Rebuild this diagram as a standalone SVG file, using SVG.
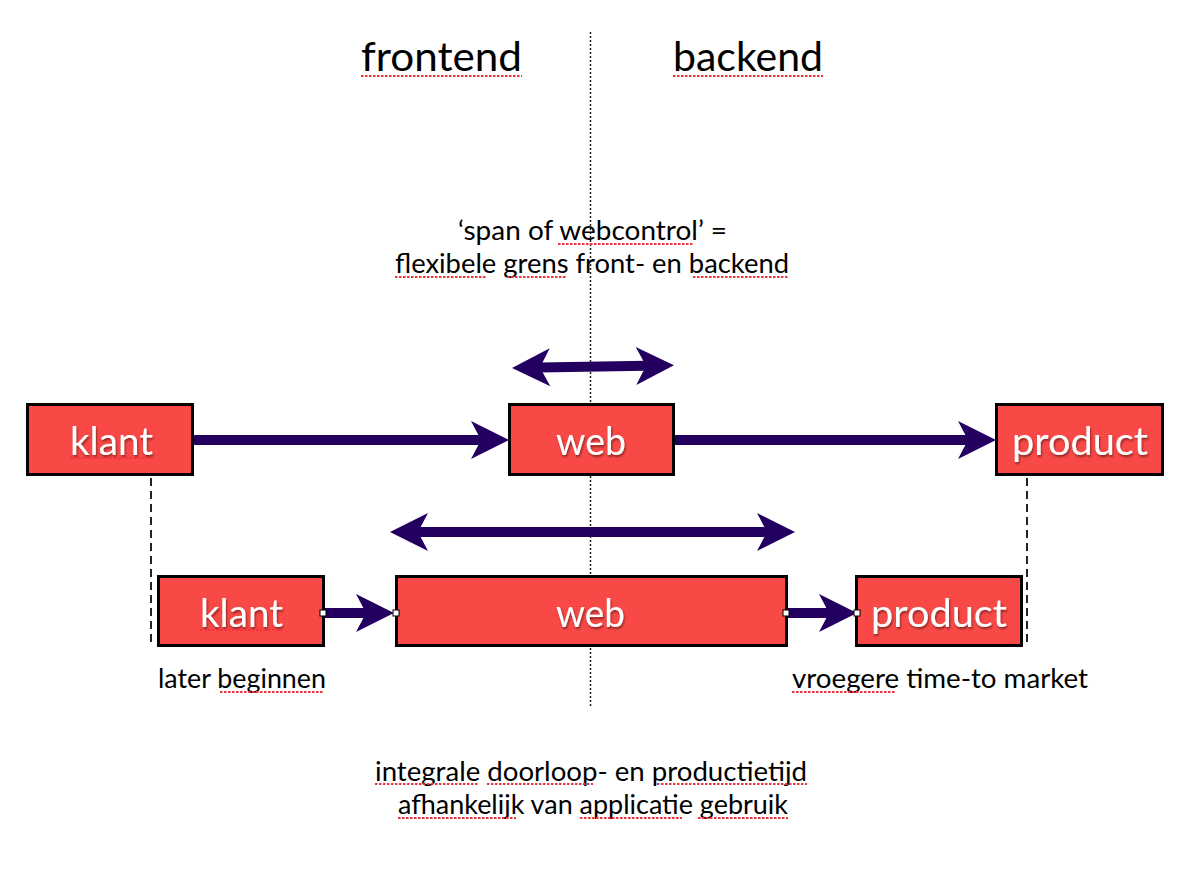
<svg xmlns="http://www.w3.org/2000/svg" width="1179" height="876" viewBox="0 0 1179 876">
<style>
.t{font-family:Lato,"Open Sans","Liberation Sans",sans-serif;fill:#000}
.bt{font-family:Lato,"Open Sans","Liberation Sans",sans-serif;fill:#fff;font-size:38px;filter:url(#sh)}
.box{fill:#F94946;stroke:#000;stroke-width:3}
.arr{stroke:#230060;stroke-width:10;fill:none}
.sp{stroke:#F2343C;stroke-width:2;stroke-dasharray:2.5 1.5;fill:none}
.h{fill:#fff;stroke:#000;stroke-width:1}
.guide{stroke:#222;fill:none}
</style>
<defs>
<filter id="sh" x="-20%" y="-20%" width="140%" height="150%">
<feDropShadow dx="1" dy="2" stdDeviation="1.2" flood-color="#000" flood-opacity="0.45"/>
</filter>
<marker id="ah" markerUnits="userSpaceOnUse" viewBox="-12 -21 42 42" refX="0" refY="0" markerWidth="42" markerHeight="42" orient="auto-start-reverse">
<path d="M28,0 L-10,-19 L0,0 L-10,19 Z" fill="#230060"/>
</marker>
</defs>
<rect width="1179" height="876" fill="#fff"/>
<g id="guides">
<line class="guide" x1="590.5" y1="32" x2="590.5" y2="706" stroke-width="1.5" stroke-dasharray="2 2"/>
<line class="guide" x1="151" y1="478" x2="151" y2="646" stroke-width="2" stroke-dasharray="8 5"/>
<line class="guide" x1="1027" y1="478" x2="1027" y2="646" stroke-width="2" stroke-dasharray="8 5"/>
</g>
<g id="labels">
<text class="t" x="361" y="71" font-size="40" textLength="161" lengthAdjust="spacingAndGlyphs">frontend</text>
<text class="t" x="673" y="71" font-size="40" textLength="150" lengthAdjust="spacingAndGlyphs">backend</text>
<text class="t" x="458" y="240" font-size="27" textLength="269" lengthAdjust="spacingAndGlyphs">‘span of webcontrol’ =</text>
<text class="t" x="395" y="273" font-size="27" textLength="394" lengthAdjust="spacingAndGlyphs">flexibele grens front- en backend</text>
<text class="t" x="158" y="688" font-size="27" textLength="168" lengthAdjust="spacingAndGlyphs">later beginnen</text>
<text class="t" x="792" y="688" font-size="27" textLength="296" lengthAdjust="spacingAndGlyphs">vroegere time-to market</text>
<text class="t" x="375" y="781" font-size="27" textLength="432" lengthAdjust="spacingAndGlyphs">integrale doorloop- en productietijd</text>
<text class="t" x="398" y="814" font-size="27" textLength="390" lengthAdjust="spacingAndGlyphs">afhankelijk van applicatie gebruik</text>
</g>
<g id="connectors">
<line class="arr" x1="193" y1="440" x2="481" y2="440" marker-end="url(#ah)"/>
<line class="arr" x1="674" y1="440" x2="968" y2="440" marker-end="url(#ah)"/>
<line class="arr" x1="540" y1="367.5" x2="646" y2="365.8" marker-start="url(#ah)" marker-end="url(#ah)"/>
<line class="arr" x1="418" y1="532" x2="767" y2="532" marker-start="url(#ah)" marker-end="url(#ah)"/>
<line class="arr" x1="323" y1="613" x2="366" y2="613" marker-end="url(#ah)"/>
<line class="arr" x1="786" y1="613" x2="829" y2="613" marker-end="url(#ah)"/>
</g>
<g id="klant1">
<rect class="box" x="27.5" y="404.5" width="165" height="70"/>
<text class="bt" x="70" y="455" textLength="83" lengthAdjust="spacingAndGlyphs">klant</text>
</g>
<g id="web1">
<rect class="box" x="509.5" y="404.5" width="164" height="70"/>
<text class="bt" x="556" y="455" textLength="70" lengthAdjust="spacingAndGlyphs">web</text>
</g>
<g id="product1">
<rect class="box" x="996.5" y="404.5" width="166" height="70"/>
<text class="bt" x="1012" y="455" textLength="136" lengthAdjust="spacingAndGlyphs">product</text>
</g>
<g id="klant2">
<rect class="box" x="158.5" y="576.5" width="165" height="69"/>
<text class="bt" x="200" y="627" textLength="83" lengthAdjust="spacingAndGlyphs">klant</text>
</g>
<g id="web2">
<rect class="box" x="396.5" y="576.5" width="390" height="69"/>
<text class="bt" x="556" y="627" textLength="69" lengthAdjust="spacingAndGlyphs">web</text>
</g>
<g id="product2">
<rect class="box" x="856.5" y="576.5" width="165" height="69"/>
<text class="bt" x="871" y="627" textLength="136" lengthAdjust="spacingAndGlyphs">product</text>
</g>
<g id="handles">
<rect class="h" x="320" y="610" width="6" height="6"/>
<rect class="h" x="393" y="610" width="6" height="6"/>
<rect class="h" x="783" y="610" width="6" height="6"/>
<rect class="h" x="854" y="610" width="6" height="6"/>
</g>
<g id="spellmarks">
<line class="sp" x1="361" y1="76" x2="522" y2="76"/>
<line class="sp" x1="673" y1="76" x2="823" y2="76"/>
<line class="sp" x1="558" y1="244" x2="693" y2="244"/>
<line class="sp" x1="395" y1="277" x2="487" y2="277"/>
<line class="sp" x1="507" y1="277" x2="567" y2="277"/>
<line class="sp" x1="693" y1="277" x2="789" y2="277"/>
<line class="sp" x1="70" y1="458" x2="153" y2="458"/>
<line class="sp" x1="200" y1="630" x2="283" y2="630"/>
<line class="sp" x1="220" y1="692" x2="323" y2="692"/>
<line class="sp" x1="792" y1="692" x2="895" y2="692"/>
<line class="sp" x1="375" y1="784" x2="478" y2="784"/>
<line class="sp" x1="487" y1="784" x2="593" y2="784"/>
<line class="sp" x1="657" y1="784" x2="807" y2="784"/>
<line class="sp" x1="398" y1="818" x2="516" y2="818"/>
<line class="sp" x1="580" y1="818" x2="682" y2="818"/>
<line class="sp" x1="698" y1="818" x2="788" y2="818"/>
</g>
</svg>
